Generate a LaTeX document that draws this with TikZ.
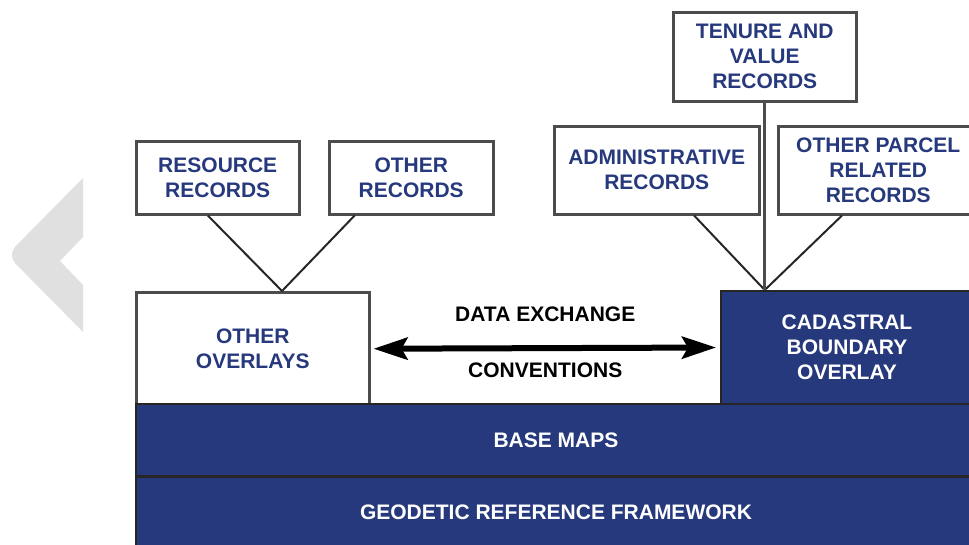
\documentclass[tikz,border=0pt]{standalone}
\usepackage{fontspec}
\setmainfont{Liberation Sans}
\usepackage{xcolor}
\usetikzlibrary{calc}
\usetikzlibrary{positioning}
\usetikzlibrary{arrows.meta}

\definecolor{cadblue}{HTML}{27397D}
\definecolor{chevgray}{HTML}{E0E0E0}

\tikzset{
	recbox/.style={draw=black!70, line width=2.5pt, fill=white, anchor=north west, align=center, text=cadblue, inner sep=0pt, font=\fontsize{21}{25}\selectfont\bfseries},
	layerbox/.style={draw=black!85, line width=2pt, fill=cadblue, anchor=north west, align=center, text=white, inner sep=0pt, font=\fontsize{21}{25}\selectfont\bfseries},
	tieline/.style={black!85, line width=2pt},
	stemline/.style={black!70, line width=3pt},
	exchline/.style={black, line width=6pt, {Stealth[length=34pt,width=22pt,inset=6pt]}-{Stealth[length=34pt,width=22pt,inset=6pt]}},
	exchtext/.style={inner sep=0pt, text=black, font=\fontsize{21}{25}\selectfont\bfseries}
}

\begin{document}
\begin{tikzpicture}[x=1pt,y=-1pt]
	\useasboundingbox (0,0) rectangle (969,544);
	\clip (0,0) rectangle (969,544);
	
	%back chevron
	\fill[chevgray] (83,178) [rounded corners=12pt] -- (7,255) [sharp corners] -- (83,332) -- (83,285) -- (60,261) -- (83,237) -- cycle;
	
	%record boxes
	\node[recbox, minimum width=163pt, minimum height=73pt] (resource_box) at (135,140) {RESOURCE\\RECORDS};
	\node[recbox, minimum width=164pt, minimum height=73pt] (other_box) at (328,140) {OTHER\\RECORDS};
	\node[recbox, minimum width=183pt, minimum height=89pt] (tenure_box) at (672,11) {TENURE AND\\VALUE\\RECORDS};
	\node[recbox, minimum width=205pt, minimum height=88pt] (admin_box) at (553,125) {ADMINISTRATIVE\\RECORDS};
	\node[recbox, minimum width=200pt, minimum height=88pt] (parcel_box) at (777,125) {OTHER PARCEL\\RELATED\\RECORDS};
	
	%overlays
	\node[recbox, minimum width=233pt, minimum height=113pt] (overlay_box) at (135,291) {OTHER\\OVERLAYS};
	\node[layerbox, minimum width=252pt, minimum height=113pt] (cadastral_box) at (720,290) {CADASTRAL\\BOUNDARY\\OVERLAY};
	
	%base layers
	\node[layerbox, minimum width=840pt, minimum height=72pt] (base_band) at (135,403) {BASE MAPS};
	\node[layerbox, minimum width=840pt, minimum height=70pt] (geo_band) at (135,476) {GEODETIC REFERENCE FRAMEWORK};
	
	% Connect records to overlays
	\coordinate (overlay_top) at ($(overlay_box.north west)+(147,0)$);
	\coordinate (cadastral_top) at (tenure_box.south |- cadastral_box.north);
	\draw[tieline] ($(resource_box.south west)!0.44!(resource_box.south east)$) -- (overlay_top);
	\draw[tieline] ($(other_box.south west)!0.16!(other_box.south east)$) -- (overlay_top);
	\draw[tieline] ($(admin_box.south west)!0.68!(admin_box.south east)$) -- (cadastral_top);
	\draw[tieline] ($(parcel_box.south west)+(65,0)$) -- (cadastral_top);
	\draw[stemline] (tenure_box.south) -- (cadastral_top);
	
	%data exchange
	\draw[exchline, shorten <=3pt, shorten >=4pt] (overlay_box.east) -- (cadastral_box.west)
		node[exchtext, midway, above=23pt] (exch_top) {DATA EXCHANGE}
		node[exchtext, midway, below=12pt] (exch_bottom) {CONVENTIONS};

\end{tikzpicture}
\end{document}
